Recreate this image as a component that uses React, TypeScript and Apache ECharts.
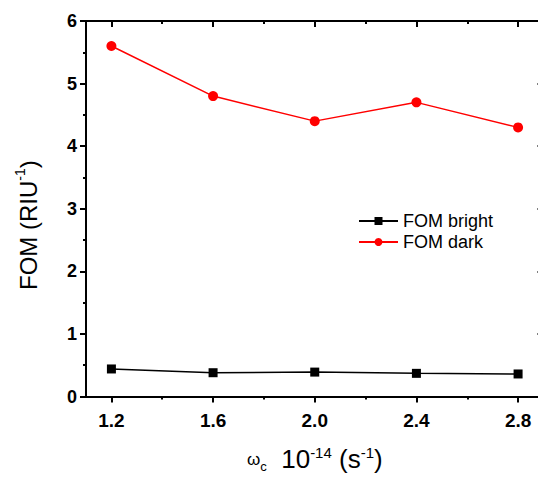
import React, { useEffect, useRef } from "react";
import * as echarts from "echarts";

const xValues = [1.2, 1.6, 2.0, 2.4, 2.8];
const fomBright = [0.44, 0.38, 0.39, 0.37, 0.36];
const fomDark = [5.6, 4.8, 4.4, 4.7, 4.3];
const xMajorTicks = [1.2, 1.6, 2.0, 2.4, 2.8];
const xMinorTicks = [1.4, 1.8, 2.2, 2.6];

const FONT = "Liberation Sans, Arial, sans-serif";

export default function App() {
  const ref = useRef<HTMLDivElement>(null);
  useEffect(() => {
    if (!ref.current) return;
    const chart = echarts.init(ref.current, null, { renderer: "svg" });
    const axisLine = { show: true, lineStyle: { color: "#000", width: 2 } };
    const baseX = { type: "value", min: 1.1, max: 2.9, splitLine: { show: false } };
    const baseY = { type: "value", min: 0, max: 6, interval: 1, splitLine: { show: false } };
    chart.setOption({
      animation: false,
      backgroundColor: "#fff",
      grid: { left: 86, top: 21, width: 457.5, height: 375.5, containLabel: false },
      xAxis: [
        {
          ...baseX,
          position: "bottom",
          axisLine,
          axisTick: { show: true, customValues: xMajorTicks, length: 6, lineStyle: { color: "#000", width: 2 } },
          axisLabel: {
            show: true,
            customValues: xMajorTicks,
            formatter: (v: number) => v.toFixed(1),
            color: "#000",
            fontFamily: FONT,
            fontWeight: "bold",
            fontSize: 19,
            margin: 14,
          },
        },
        {
          ...baseX,
          position: "bottom",
          axisLine: { show: false },
          axisTick: { show: true, customValues: xMinorTicks, length: 3, lineStyle: { color: "#000", width: 2 } },
          axisLabel: { show: false },
        },
        {
          ...baseX,
          position: "top",
          axisLine,
          axisTick: { show: true, inside: true, customValues: xMajorTicks, length: 6, lineStyle: { color: "#000", width: 2 } },
          axisLabel: { show: false },
        },
        {
          ...baseX,
          position: "top",
          axisLine: { show: false },
          axisTick: { show: true, inside: true, customValues: xMinorTicks, length: 3, lineStyle: { color: "#000", width: 2 } },
          axisLabel: { show: false },
        },
      ],
      yAxis: [
        {
          ...baseY,
          position: "left",
          axisLine,
          axisTick: { show: true, length: 6, lineStyle: { color: "#000", width: 2 } },
          minorTick: { show: true, splitNumber: 2, length: 3, lineStyle: { color: "#000", width: 2 } },
          axisLabel: { color: "#000", fontFamily: FONT, fontWeight: "bold", fontSize: 18, margin: 9 },
        },
        {
          ...baseY,
          position: "right",
          axisLine,
          axisTick: { show: true, inside: true, length: 6, lineStyle: { color: "#000", width: 2 } },
          minorTick: { show: true, splitNumber: 2, length: 3, lineStyle: { color: "#000", width: 2 } },
          axisLabel: { show: false },
        },
      ],
      legend: {
        orient: "vertical",
        left: 358,
        top: 212,
        padding: 0,
        itemWidth: 39,
        itemHeight: 10,
        itemGap: 3,
        textStyle: { color: "#000", fontFamily: FONT, fontSize: 18 },
        data: ["FOM bright", "FOM dark"],
      },
      series: [
        {
          name: "FOM bright",
          type: "line",
          xAxisIndex: 0,
          yAxisIndex: 0,
          data: xValues.map((x, i) => [x, fomBright[i]]),
          symbol: "rect",
          symbolSize: 9,
          lineStyle: { color: "#000", width: 1.5 },
          itemStyle: { color: "#000" },
        },
        {
          name: "FOM dark",
          type: "line",
          xAxisIndex: 0,
          yAxisIndex: 0,
          data: xValues.map((x, i) => [x, fomDark[i]]),
          symbol: "circle",
          symbolSize: 10,
          lineStyle: { color: "#ff0000", width: 1.5 },
          itemStyle: { color: "#ff0000" },
        },
      ],
      graphic: [
        {
          type: "text",
          left: 247,
          top: 445,
          style: {
            text: "{w|ω}{sub|c}{m|  10}{sup|-14}{m| (s}{sup|-1}{m|)}",
            fill: "#000",
            fontFamily: FONT,
            rich: {
              w: { fontSize: 17, fontFamily: FONT, lineHeight: 28, verticalAlign: "bottom", padding: [0, 0, 5, 0] },
              sub: { fontSize: 13, fontFamily: FONT, lineHeight: 28, verticalAlign: "bottom" },
              m: { fontSize: 26, fontFamily: FONT, lineHeight: 28 },
              sup: { fontSize: 15, fontFamily: FONT, lineHeight: 28, verticalAlign: "top", padding: [0, 0, 2, 0] },
            },
          },
        },
        {
          type: "text",
          x: 13,
          y: 290,
          rotation: Math.PI / 2,
          style: {
            text: "{m|FOM (RIU}{sup|-1}{m|)}",
            fill: "#000",
            fontFamily: FONT,
            rich: {
              m: { fontSize: 24, fontFamily: FONT, lineHeight: 30 },
              sup: { fontSize: 14, fontFamily: FONT, lineHeight: 30, verticalAlign: "top" },
            },
          },
        },
      ],
    });
    return () => chart.dispose();
  }, []);
  return (
    <div style={{ position: "fixed", left: 0, top: 0, width: 538, height: 477, overflow: "hidden", background: "#fff" }}>
      <div ref={ref} style={{ width: 560, height: 477 }} />
    </div>
  );
}
